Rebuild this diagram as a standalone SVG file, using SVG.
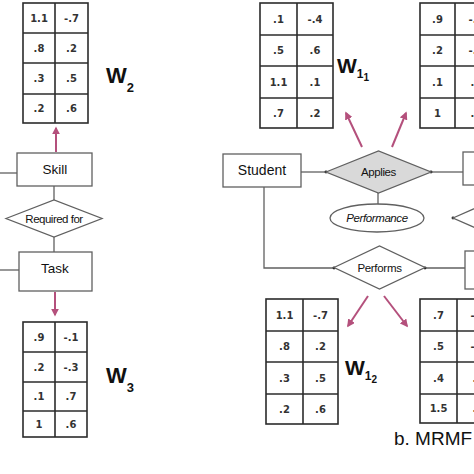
<svg xmlns="http://www.w3.org/2000/svg" width="474" height="474" viewBox="0 0 474 474">
<defs>
<style>
.tb{fill:#fff;stroke:#2b2b2b;stroke-width:1.6}
.tl{stroke:#2b2b2b;stroke-width:1.6}
.tv{font-family:"DejaVu Sans",Verdana,sans-serif;font-size:10px;font-weight:bold;fill:#333;text-anchor:middle}
.box{fill:#fff;stroke:#606060;stroke-width:1.3}
.nt{font-family:"Liberation Sans",Arial,sans-serif;fill:#111;text-anchor:middle}
.ln{fill:none;stroke:#606060;stroke-width:1.3}
.ar{fill:none;stroke:#b4507c;stroke-width:2;marker-end:url(#ah)}
.wl{font-family:"Liberation Sans",Arial,sans-serif;font-weight:bold;fill:#111}
.dot{fill:#222}
</style>
<marker id="ah" viewBox="0 0 10 10" refX="8" refY="5" markerWidth="4" markerHeight="4" orient="auto">
<path d="M0,0 L10,5 L0,10 Z" fill="#b4507c"/>
</marker>
</defs>
<rect width="474" height="474" fill="#fff"/>

<g id="connectors">
<line class="ln" x1="0" y1="173" x2="17" y2="173"/>
<line class="ln" x1="0" y1="270" x2="19" y2="270"/>
<line class="ln" x1="54" y1="186" x2="54" y2="200"/>
<line class="ln" x1="54" y1="237" x2="54" y2="252"/>
<line class="ln" x1="301" y1="172" x2="326" y2="172"/>
<line class="ln" x1="431" y1="172" x2="463" y2="172"/>
<line class="ln" x1="378" y1="193" x2="378" y2="204"/>
<polyline class="ln" points="264,187 264,268 334,268"/>
<line class="ln" x1="425" y1="268" x2="465" y2="268"/>
<circle class="dot" cx="326" cy="172" r="1.4"/>
<circle class="dot" cx="431" cy="172" r="1.4"/>
<circle class="dot" cx="334" cy="268" r="1.4"/>
<circle class="dot" cx="425" cy="268" r="1.4"/>
<circle class="dot" cx="453" cy="218" r="1.4"/>
<line class="ar" x1="56" y1="152" x2="56" y2="128"/>
<line class="ar" x1="55" y1="292" x2="55" y2="315"/>
<line class="ar" x1="362" y1="147" x2="346" y2="113"/>
<line class="ar" x1="392" y1="147" x2="406" y2="113"/>
<line class="ar" x1="368" y1="296" x2="348" y2="326"/>
<line class="ar" x1="384" y1="296" x2="407" y2="326"/>
</g>

<g id="W2">
<rect class="tb" x="23" y="3" width="65" height="120"/>
<line class="tl" x1="55" y1="3" x2="55" y2="123"/>
<line class="tl" x1="23" y1="33" x2="88" y2="33"/>
<line class="tl" x1="23" y1="63" x2="88" y2="63"/>
<line class="tl" x1="23" y1="94" x2="88" y2="94"/>
<text class="tv" x="39" y="22">1.1</text><text class="tv" x="71.5" y="22">-.7</text>
<text class="tv" x="39" y="52">.8</text><text class="tv" x="71.5" y="52">.2</text>
<text class="tv" x="39" y="82">.3</text><text class="tv" x="71.5" y="82">.5</text>
<text class="tv" x="39" y="112">.2</text><text class="tv" x="71.5" y="112">.6</text>
<text class="wl" x="106" y="83" font-size="22">W<tspan font-size="13" dy="9">2</tspan></text>
</g>

<g id="skill">
<rect class="box" x="17" y="153" width="75" height="33"/>
<text class="nt" x="55" y="173.5" font-size="13.5">Skill</text>
</g>
<g id="required-for">
<polygon class="box" points="6,218.5 54,200 102,218.5 54,237"/>
<text class="nt" x="54" y="222.5" font-size="11.5" letter-spacing="-0.5">Required for</text>
</g>
<g id="task">
<rect class="box" x="19" y="252" width="73" height="39"/>
<text class="nt" x="55" y="272.5" font-size="13.5">Task</text>
</g>

<g id="W3">
<rect class="tb" x="23" y="322" width="64" height="115"/>
<line class="tl" x1="55" y1="322" x2="55" y2="437"/>
<line class="tl" x1="23" y1="352" x2="87" y2="352"/>
<line class="tl" x1="23" y1="382" x2="87" y2="382"/>
<line class="tl" x1="23" y1="411" x2="87" y2="411"/>
<text class="tv" x="39" y="340.5">.9</text><text class="tv" x="71" y="340.5">-.1</text>
<text class="tv" x="39" y="370.5">.2</text><text class="tv" x="71" y="370.5">-.3</text>
<text class="tv" x="39" y="400">.1</text><text class="tv" x="71" y="400">.7</text>
<text class="tv" x="39" y="427.5">1</text><text class="tv" x="71" y="427.5">.6</text>
<text class="wl" x="106" y="383" font-size="22">W<tspan font-size="13" dy="9">3</tspan></text>
</g>

<g id="W1_1">
<rect class="tb" x="260" y="3" width="73" height="125"/>
<line class="tl" x1="297" y1="3" x2="297" y2="128"/>
<line class="tl" x1="260" y1="35" x2="333" y2="35"/>
<line class="tl" x1="260" y1="66" x2="333" y2="66"/>
<line class="tl" x1="260" y1="98" x2="333" y2="98"/>
<text class="tv" x="278.5" y="22.5">.1</text><text class="tv" x="315" y="22.5">-.4</text>
<text class="tv" x="278.5" y="54">.5</text><text class="tv" x="315" y="54">.6</text>
<text class="tv" x="278.5" y="85.5">1.1</text><text class="tv" x="315" y="85.5">.1</text>
<text class="tv" x="278.5" y="116.5">.7</text><text class="tv" x="315" y="116.5">.2</text>
<text class="wl" x="337" y="73" font-size="21">W<tspan font-size="12" dy="5">1</tspan><tspan font-size="10" dy="3">1</tspan></text>
</g>

<g id="W_top_right">
<rect class="tb" x="420" y="3" width="72" height="125"/>
<line class="tl" x1="455" y1="3" x2="455" y2="128"/>
<line class="tl" x1="420" y1="35" x2="492" y2="35"/>
<line class="tl" x1="420" y1="66" x2="492" y2="66"/>
<line class="tl" x1="420" y1="98" x2="492" y2="98"/>
<text class="tv" x="437.5" y="22.5">.9</text><text class="tv" x="476" y="22.5">-.1</text>
<text class="tv" x="437.5" y="54">.2</text><text class="tv" x="476" y="54">-.3</text>
<text class="tv" x="437.5" y="85.5">.1</text><text class="tv" x="476" y="85.5">.7</text>
<text class="tv" x="437.5" y="116.5">1</text><text class="tv" x="476" y="116.5">.6</text>
</g>

<g id="student">
<rect class="box" x="223" y="154" width="78" height="33"/>
<text class="nt" x="262" y="175" font-size="14">Student</text>
</g>
<g id="applies">
<polygon class="box" points="326,172 378.5,151 431,172 378.5,193" style="fill:#d9d9d9"/>
<text class="nt" x="378.5" y="176" font-size="11.5" letter-spacing="-0.4">Applies</text>
</g>
<g id="performance">
<ellipse class="box" cx="377" cy="218" rx="47" ry="14"/>
<text class="nt" x="377" y="222" font-size="11.5" font-style="italic" letter-spacing="-0.4">Performance</text>
</g>
<g id="performs">
<polygon class="box" points="334,267.5 379.5,246 425,267.5 379.5,289"/>
<text class="nt" x="379.5" y="271.5" font-size="11.5" letter-spacing="-0.3">Performs</text>
</g>
<g id="right-box-1">
<rect class="box" x="463" y="152" width="40" height="33"/>
</g>
<g id="right-diamond">
<polygon class="box" points="453,218 501,197 549,218 501,239"/>
</g>
<g id="right-box-2">
<rect class="box" x="465" y="251" width="40" height="38"/>
</g>

<g id="W1_2">
<rect class="tb" x="266" y="299" width="72" height="125"/>
<line class="tl" x1="303" y1="299" x2="303" y2="424"/>
<line class="tl" x1="266" y1="331" x2="338" y2="331"/>
<line class="tl" x1="266" y1="362" x2="338" y2="362"/>
<line class="tl" x1="266" y1="394" x2="338" y2="394"/>
<text class="tv" x="284.5" y="318.5">1.1</text><text class="tv" x="320.5" y="318.5">-.7</text>
<text class="tv" x="284.5" y="350">.8</text><text class="tv" x="320.5" y="350">.2</text>
<text class="tv" x="284.5" y="381.5">.3</text><text class="tv" x="320.5" y="381.5">.5</text>
<text class="tv" x="284.5" y="412.5">.2</text><text class="tv" x="320.5" y="412.5">.6</text>
<text class="wl" x="345" y="375" font-size="21">W<tspan font-size="12" dy="5">1</tspan><tspan font-size="10" dy="3">2</tspan></text>
</g>

<g id="W_bottom_right">
<rect class="tb" x="420" y="299" width="74" height="124"/>
<line class="tl" x1="457" y1="299" x2="457" y2="423"/>
<line class="tl" x1="420" y1="331" x2="494" y2="331"/>
<line class="tl" x1="420" y1="362" x2="494" y2="362"/>
<line class="tl" x1="420" y1="394" x2="494" y2="394"/>
<text class="tv" x="438.5" y="318.5">.7</text><text class="tv" x="478" y="318.5">-.2</text>
<text class="tv" x="438.5" y="350">.5</text><text class="tv" x="478" y="350">-.1</text>
<text class="tv" x="438.5" y="381.5">.4</text><text class="tv" x="478" y="381.5">.3</text>
<text class="tv" x="438.5" y="412">1.5</text><text class="tv" x="478" y="412">.2</text>
</g>

<text class="nt" x="394" y="445" font-size="19" style="text-anchor:start">b. MRMF</text>
</svg>
